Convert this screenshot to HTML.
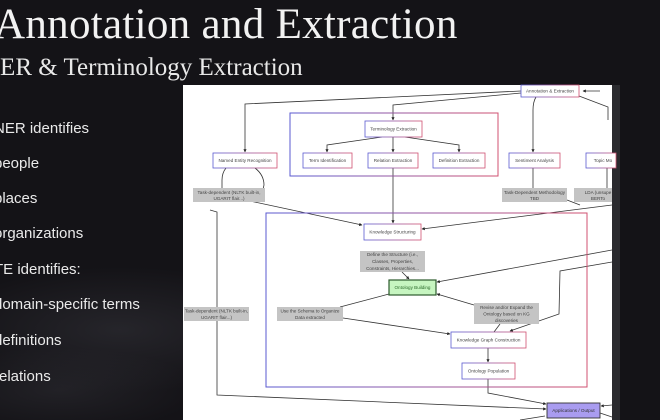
<!DOCTYPE html>
<html><head><meta charset="utf-8"><style>
html,body{margin:0;padding:0}
body{width:660px;height:420px;overflow:hidden;position:relative;background:#141317;font-family:"Liberation Sans",sans-serif;color:#eee}
.bg{position:absolute;inset:0;background:radial-gradient(ellipse 260px 90px at 120px 330px,rgba(90,90,100,0.25),rgba(0,0,0,0) 70%),radial-gradient(ellipse 200px 60px at 60px 390px,rgba(90,90,100,0.2),rgba(0,0,0,0) 70%)}
.t1{position:absolute;left:-6px;top:0px;font-family:"Liberation Serif",serif;font-size:43px;color:#f2f2f2;white-space:nowrap;letter-spacing:0.3px}
.t2{position:absolute;left:-18px;top:54px;font-family:"Liberation Serif",serif;font-size:25px;color:#e8e8e8;white-space:nowrap}
.b{position:absolute;left:-6px;font-size:15px;color:#eaeaea;white-space:nowrap}
svg{position:absolute;left:0;top:0}
svg text{font-family:"Liberation Sans",sans-serif;font-size:4.6px;fill:#444;text-anchor:middle}
</style></head><body>
<div class="bg"></div>
<div class="t1">Annotation and Extraction</div>
<div class="t2">NER &amp; Terminology Extraction</div>
<div class="b" style="top:120px">NER identifies</div>
<div class="b" style="top:155px">people</div>
<div class="b" style="top:190px">places</div>
<div class="b" style="top:225px">organizations</div>
<div class="b" style="top:261px">TE identifies:</div>
<div class="b" style="top:296px">domain-specific terms</div>
<div class="b" style="top:332px">definitions</div>
<div class="b" style="top:368px">relations</div>
<svg width="660" height="420" viewBox="0 0 660 420">
<defs>
<linearGradient id="g" x1="0" y1="0" x2="1" y2="0"><stop offset="0" stop-color="#5a5ad0"/><stop offset="1" stop-color="#d05070"/></linearGradient>
<marker id="a" markerWidth="4" markerHeight="4" refX="3.5" refY="2" orient="auto"><path d="M0,0 L4,2 L0,4z" fill="#222"/></marker>
</defs>
<rect x="183" y="85" width="429" height="335" fill="#fff"/>
<rect x="612" y="85" width="8" height="335" fill="#2a2a2e"/>
<g fill="none" stroke="#333" stroke-width="0.8">
<path d="M521,91 L245,104 Q245,105 245,110 L245,152" marker-end="url(#a)"/>
<path d="M521,93 L393,105 L393,120" marker-end="url(#a)"/>
<path d="M536,97 Q533,102 533,110 L533,152" marker-end="url(#a)"/>
<path d="M579,96 L608,107 L608,120"/>
<path d="M600,91 L583,91" marker-end="url(#a)"/>
<path d="M382,137 L327,145 L327,152" marker-end="url(#a)"/>
<path d="M393,137 L393,152" marker-end="url(#a)"/>
<path d="M405,137 L459,145 L459,152" marker-end="url(#a)"/>
<path d="M393,168 L393,223" marker-end="url(#a)"/>
<path d="M226,168 Q222,173 222,180 L222,188"/>
<path d="M255,168 Q264,175 264,185 L262,194 L255,196"/>
<path d="M250,201 L362,225" marker-end="url(#a)"/>
<path d="M210,210 L217,212 L217,395 L546,409" marker-end="url(#a)"/>
<path d="M533,168 L533,188"/>
<path d="M567,200 L580,205"/>
<path d="M612,205 L422,229" marker-end="url(#a)"/>
<path d="M607,168 L607,188"/>
<path d="M402,272 L409,279" marker-end="url(#a)"/>
<path d="M612,250 L437,282" marker-end="url(#a)"/>
<path d="M389,294 L340,307"/>
<path d="M343,318 L450,334" marker-end="url(#a)"/>
<path d="M474,305 L437,294" marker-end="url(#a)"/>
<path d="M612,262 L560,271 L559,314 L510,331" marker-end="url(#a)"/>
<path d="M500,324 L494,332"/>
<path d="M488,348 L488,362" marker-end="url(#a)"/>
<path d="M488,379 L488,393 L546,404" marker-end="url(#a)"/>
<path d="M612,405 L601,406" marker-end="url(#a)"/>
<path d="M600,413 L612,417"/>
<path d="M545,416 L520,420"/>
</g>
<g fill="none" stroke="url(#g)" stroke-width="1">
<rect x="290" y="113" width="208" height="63"/>
<rect x="266" y="213" width="321" height="174"/>
</g>
<g stroke="url(#g)" stroke-width="0.8" fill="#fff">
<rect x="521" y="85" width="58" height="12"/>
<rect x="365" y="121" width="57" height="16"/>
<rect x="303" y="153" width="49" height="15"/>
<rect x="368" y="153" width="50" height="15"/>
<rect x="433" y="153" width="52" height="15"/>
<rect x="213" y="153" width="64" height="15"/>
<rect x="509" y="153" width="51" height="15"/>
<rect x="586" y="153" width="30" height="15"/>
<rect x="364" y="224" width="57" height="16"/>
<rect x="451" y="332" width="75" height="16"/>
<rect x="462" y="363" width="53" height="16"/>
</g>
<rect x="389" y="280" width="47" height="15" fill="#c6f5c0" stroke="#2d5a2d" stroke-width="1.2"/>
<rect x="547" y="403" width="53" height="15" fill="#a99cf0" stroke="#333" stroke-width="0.9"/>
<g fill="#c4c4c4">
<rect x="193" y="188" width="72" height="14"/>
<rect x="502" y="188" width="65" height="14"/>
<rect x="574" y="188" width="38" height="14"/>
<rect x="360" y="251" width="65" height="21"/>
<rect x="277" y="307" width="66" height="14"/>
<rect x="474" y="303" width="65" height="21"/>
<rect x="184" y="307" width="65" height="14"/>
</g>
<text x="550" y="92.5">Annotation &amp; Extraction</text>
<text x="393.5" y="130.5">Terminology Extraction</text>
<text x="327.5" y="162">Term Identification</text>
<text x="393" y="162">Relation Extraction</text>
<text x="459" y="162">Definition Extraction</text>
<text x="245" y="162">Named Entity Recognition</text>
<text x="534.5" y="162">Sentiment Analysis</text>
<text x="603" y="162">Topic Mo</text>
<text x="229" y="194">Task-dependent (NLTK built-in,</text>
<text x="229" y="200">UGARIT flair...)</text>
<text x="534.5" y="194">Task-Dependent Methodology</text>
<text x="534.5" y="200">TBD</text>
<text x="598" y="194">LDA (unsupe</text>
<text x="598" y="200">BERTo</text>
<text x="392.5" y="233.5">Knowledge Structuring</text>
<text x="392.5" y="256">Define the Structure (i.e.,</text>
<text x="392.5" y="263">Classes, Properties,</text>
<text x="392.5" y="270">Constraints, Hierarchies...</text>
<text x="412.5" y="289" style="fill:#2a6a2a">Ontology Building</text>
<text x="310" y="312.5">Use the Schema to Organize</text>
<text x="310" y="319">Data extracted</text>
<text x="506.5" y="309">Revise and/or Expand the</text>
<text x="506.5" y="315.5">Ontology based on KG</text>
<text x="506.5" y="322">discoveries</text>
<text x="216.5" y="312.5">Task-dependent (NLTK built-in,</text>
<text x="216.5" y="319">UGARIT flair...)</text>
<text x="488.5" y="341.5">Knowledge Graph Construction</text>
<text x="488.5" y="372.5">Ontology Population</text>
<text x="573.5" y="412" style="fill:#333">Applications / Output</text>
</svg>
</body></html>
